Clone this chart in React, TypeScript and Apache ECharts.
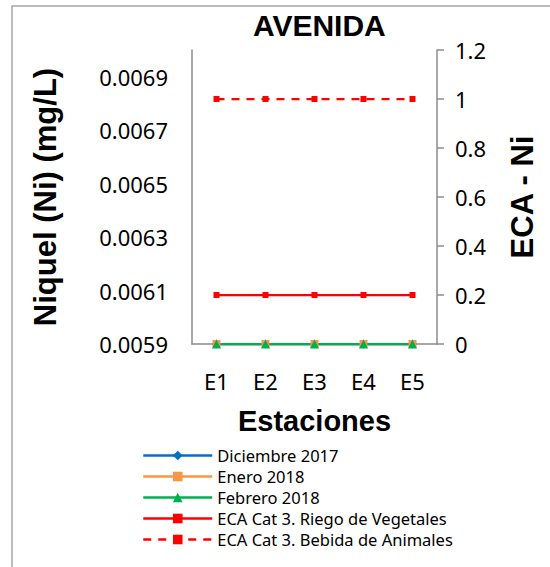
import React, { useEffect, useRef } from "react";
import * as echarts from "echarts";

const stations = ["E1", "E2", "E3", "E4", "E5"];
const dic2017 = [0.0059, 0.0059, 0.0059, 0.0059, 0.0059];
const ene2018 = [0.0059, 0.0059, 0.0059, 0.0059, 0.0059];
const feb2018 = [0.0059, 0.0059, 0.0059, 0.0059, 0.0059];
const ecaRiego = [0.2, 0.2, 0.2, 0.2, 0.2];
const ecaBebida = [1, 1, 1, 1, 1];
const leftTicks = [0.0059, 0.0061, 0.0063, 0.0065, 0.0067, 0.0069];

const TICK_FONT = "'Noto Sans', 'Open Sans', sans-serif";
const BOLD_FONT = "'Liberation Sans', Arial, sans-serif";
const AXIS_COLOR = "#8c8c8c";

export default function App() {
  const ref = useRef<HTMLDivElement>(null);
  useEffect(() => {
    if (!ref.current) return;
    const chart = echarts.init(ref.current, undefined, { renderer: "svg" });
    const tickLabel = { color: "#000", fontFamily: TICK_FONT, fontSize: 22 };
    const nameStyle = (size: number) => ({
      color: "#000",
      fontFamily: BOLD_FONT,
      fontSize: size,
      fontWeight: "bold" as const,
    });
    chart.setOption({
      animation: false,
      backgroundColor: "#fff",
      title: {
        text: "AVENIDA",
        left: 248,
        top: 5,
        textStyle: { color: "#000", fontFamily: BOLD_FONT, fontSize: 30, fontWeight: "bold" },
      },
      graphic: [
        {
          type: "rect",
          shape: { x: 12, y: 6, width: 700, height: 700 },
          style: { fill: "none", stroke: "#a6a6a6", lineWidth: 1.5 },
          silent: true,
        },
      ],
      grid: { left: 192, right: 113, top: 50, bottom: 223, containLabel: false },
      legend: {
        orient: "vertical",
        left: 137,
        top: 442,
        padding: 5,
        height: 118,
        itemWidth: 69,
        itemHeight: 12,
        itemGap: 4,
        lineStyle: { width: 2.5 },
        textStyle: { color: "#000", fontFamily: TICK_FONT, fontSize: 16.5 },
        data: [
          "Diciembre 2017",
          "Enero 2018",
          "Febrero 2018",
          "ECA Cat 3. Riego de Vegetales",
          "ECA Cat 3. Bebida de Animales",
        ],
      },
      xAxis: {
        type: "category",
        data: stations,
        boundaryGap: true,
        name: "Estaciones",
        nameLocation: "middle",
        nameGap: 62,
        nameTextStyle: nameStyle(29),
        axisLine: { lineStyle: { color: AXIS_COLOR, width: 1.5 } },
        axisTick: { show: false },
        axisLabel: { ...tickLabel, margin: 26 },
        splitLine: { show: false },
      },
      yAxis: [
        {
          type: "value",
          position: "left",
          min: 0.0059,
          max: 0.007,
          name: "Niquel (Ni) (mg/L)",
          nameLocation: "middle",
          nameRotate: 90,
          nameGap: 131,
          nameTextStyle: nameStyle(31),
          axisLine: { show: true, lineStyle: { color: AXIS_COLOR, width: 1.5 } },
          axisTick: { show: false },
          axisLabel: {
            ...tickLabel,
            margin: 24,
            customValues: leftTicks,
            formatter: (v: number) => v.toFixed(4),
          },
          splitLine: { show: false },
        },
        {
          type: "value",
          position: "right",
          min: 0,
          max: 1.2,
          interval: 0.2,
          name: "ECA - Ni",
          nameLocation: "middle",
          nameRotate: 90,
          nameGap: 70,
          nameTextStyle: nameStyle(31),
          axisLine: { show: true, lineStyle: { color: AXIS_COLOR, width: 1.5 } },
          axisTick: { show: true, inside: false, length: 7, lineStyle: { color: AXIS_COLOR, width: 1.5 } },
          axisLabel: { ...tickLabel, margin: 18 },
          splitLine: { show: false },
        },
      ],
      series: [
        {
          name: "Diciembre 2017",
          type: "line",
          yAxisIndex: 0,
          data: dic2017,
          color: "#0070C0",
          symbol: "diamond",
          symbolSize: 9,
          lineStyle: { width: 2.25 },
          clip: false,
        },
        {
          name: "Enero 2018",
          type: "line",
          yAxisIndex: 0,
          data: ene2018,
          color: "#F79646",
          symbol: "rect",
          symbolSize: 8,
          lineStyle: { width: 2.25 },
          clip: false,
        },
        {
          name: "Febrero 2018",
          type: "line",
          yAxisIndex: 0,
          data: feb2018,
          color: "#00B050",
          symbol: "triangle",
          symbolSize: 9,
          lineStyle: { width: 2.25 },
          clip: false,
        },
        {
          name: "ECA Cat 3. Riego de Vegetales",
          type: "line",
          yAxisIndex: 1,
          data: ecaRiego,
          color: "#FF0000",
          symbol: "rect",
          symbolSize: 6,
          lineStyle: { width: 2.25 },
          clip: false,
        },
        {
          name: "ECA Cat 3. Bebida de Animales",
          type: "line",
          yAxisIndex: 1,
          data: ecaBebida,
          color: "#FF0000",
          symbol: "rect",
          symbolSize: 6,
          lineStyle: { width: 2.25, type: [8, 7] },
          clip: false,
        },
      ],
    });
    return () => chart.dispose();
  }, []);
  return (
    <div
      ref={ref}
      style={{ position: "fixed", left: 0, top: 0, width: 550, height: 567 }}
    />
  );
}
